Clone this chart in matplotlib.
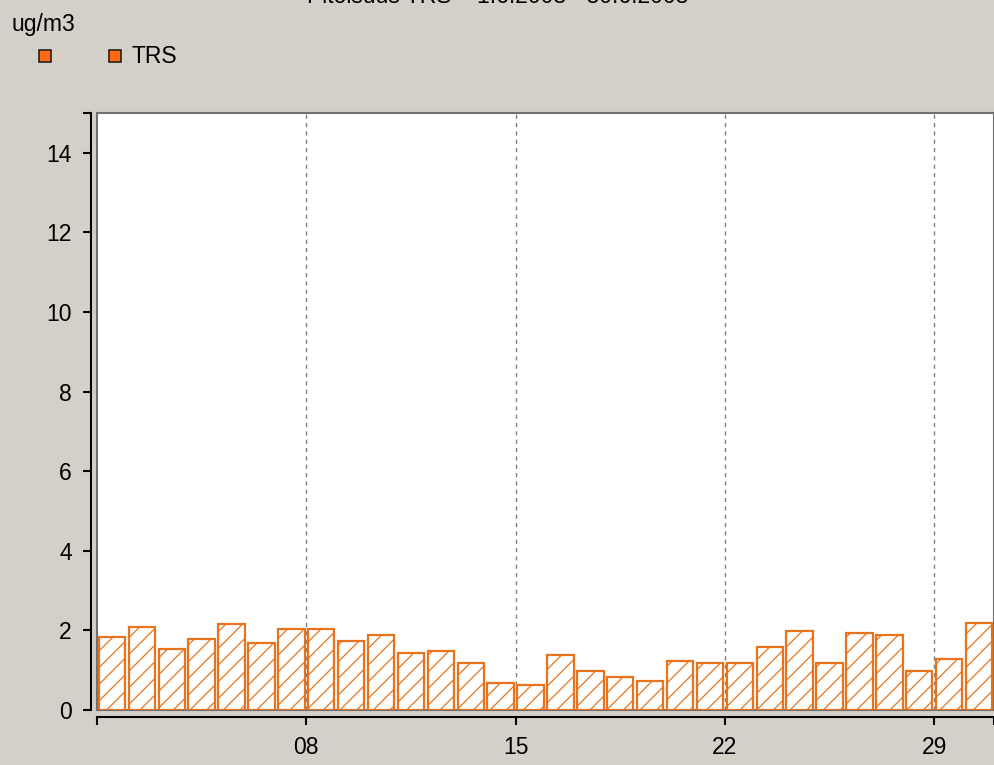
import numpy as np
import matplotlib
matplotlib.use("Agg")
import matplotlib.pyplot as plt
from matplotlib.lines import Line2D
from matplotlib.ticker import FixedLocator, FixedFormatter

# daily values, June 2008
days = np.arange(1, 31)
trs = [1.83, 2.08, 1.54, 1.79, 2.15, 1.69, 2.03, 2.03, 1.74, 1.89,
       1.44, 1.49, 1.18, 0.67, 0.62, 1.38, 0.98, 0.82, 0.73, 1.23,
       1.18, 1.18, 1.59, 1.99, 1.18, 1.94, 1.89, 0.97, 1.28, 2.19]
x_ticks = [1, 8, 15, 22, 29, 31]
x_labels = ['', '08', '15', '22', '29', '']
y_ticks = [0, 2, 4, 6, 8, 10, 12, 14, 15]
y_labels = ['0', '2', '4', '6', '8', '10', '12', '14', '']
unit = 'ug/m3'
series = 'TRS'
title = 'Pitoisuus TRS    1.6.2008 - 30.6.2008'

bg = '#d4d0c8'
orange = '#e8731c'

plt.rcParams['font.family'] = ['Liberation Sans', 'DejaVu Sans']
plt.rcParams['hatch.linewidth'] = 0.9

fig = plt.figure(figsize=(9.95, 7.65), dpi=100, facecolor=bg)
ax = fig.add_axes([97 / 995, 55 / 765, 897 / 995, 597 / 765])
ax.set_facecolor('white')
ax.patch.set_edgecolor('#707070')
ax.patch.set_linewidth(1.5)

ax.bar(days + 0.5, trs, width=0.88, facecolor='white', edgecolor=orange,
       hatch='//', linewidth=1.6, zorder=3)

for d in x_ticks[1:-1]:
    ax.axvline(d, color='#808080', linestyle=(0, (3, 3)), linewidth=1, zorder=1)

ax.set_xlim(1, 31)
ax.set_ylim(0, 15)

for s in ['top', 'right']:
    ax.spines[s].set_visible(False)
ax.spines['left'].set_position(('outward', 4))
ax.spines['bottom'].set_position(('outward', 5))
ax.spines['left'].set_linewidth(1.5)
ax.spines['bottom'].set_linewidth(1.5)

ax.xaxis.set_major_locator(FixedLocator(x_ticks))
ax.xaxis.set_major_formatter(FixedFormatter(x_labels))
ax.yaxis.set_major_locator(FixedLocator(y_ticks))
ax.yaxis.set_major_formatter(FixedFormatter(y_labels))
ax.tick_params(axis='both', direction='out', length=6, width=1.5,
               labelsize=16.5, colors='black', pad=8)

# header: clipped title, unit and legend
fig.text(0.5, 1 - 3 / 765, title, ha='center', va='baseline', fontsize=16.5)
fig.text(12 / 995, 1 - 31 / 765, unit, ha='left', va='baseline', fontsize=16.5)
for xp in [45, 115]:
    fig.add_artist(Line2D([xp / 995], [1 - 56 / 765], marker='s',
                          markersize=9, markerfacecolor='#ff6a10',
                          markeredgecolor='#202020', markeredgewidth=1.2,
                          linestyle='none', transform=fig.transFigure))
fig.text(131 / 995, 1 - 63 / 765, series, ha='left', va='baseline', fontsize=16.5)

fig.savefig('out.png', dpi=100, facecolor=bg)
